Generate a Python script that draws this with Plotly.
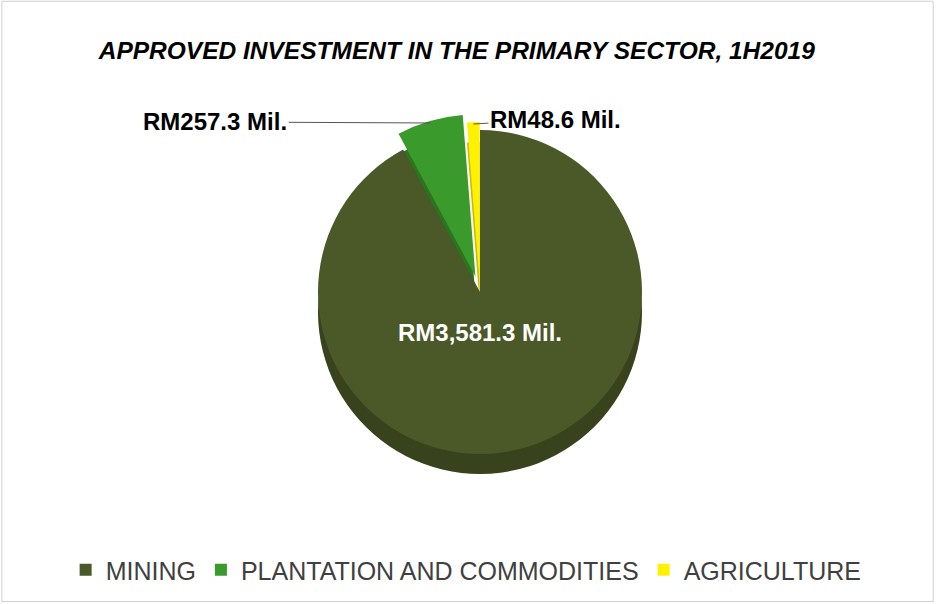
import math
import plotly.graph_objects as go

labels = ["MINING", "PLANTATION AND COMMODITIES", "AGRICULTURE"]
values = [3581.3, 257.3, 48.6]
colors = ["#4B5827", "#3A9A2B", "#FFF200"]
side_colors = ["#38421C", "#2B7420", "#C9BE00"]
pulls = [0, 0.1, 0.05]

W, H = 936, 604
cx, cy, r = 480, 292, 162
depth = 20
half = r * (1 + max(pulls))
FONT = "Liberation Sans, Arial"

def dom(cy_px):
    return dict(x=[(cx - half) / W, (cx + half) / W],
                y=[(H - cy_px - half) / H, (H - cy_px + half) / H])

fig = go.Figure()
fig.add_trace(go.Pie(
    labels=labels, values=values, sort=False, direction="clockwise", rotation=0,
    pull=pulls, marker=dict(colors=side_colors, line=dict(width=0)),
    textinfo="none", hoverinfo="skip", showlegend=False, domain=dom(cy + depth),
))
fig.add_trace(go.Pie(
    labels=labels, values=values, sort=False, direction="clockwise", rotation=0,
    pull=pulls, marker=dict(colors=colors, line=dict(width=0)),
    texttemplate=["<b>RM%{value:,.1f} Mil.</b>", "", ""],
    textposition="inside",
    insidetextorientation="horizontal",
    insidetextfont=dict(color="white", size=24, family=FONT),
    domain=dom(cy),
))

# leader-line labels for the two small slices, anchored at slice edges
total = sum(values)
cum = 0
edge = []
for v, p in zip(values, pulls):
    mid = (cum + v / 2) / total * 2 * math.pi
    cum += v
    rr = r * (1 + p) - 2
    edge.append((cx + rr * math.sin(mid), cy - rr * math.cos(mid)))

label_offsets = {1: (-215, -1, "center"), 2: (82, -5, "center")}
annotations = []
for i, (ax, ay, anc) in label_offsets.items():
    px, py = edge[i]
    annotations.append(dict(
        x=px / W, y=1 - py / H, xref="paper", yref="paper",
        text=f"<b>RM{values[i]:,.1f} Mil.</b>",
        showarrow=True, arrowhead=0, arrowwidth=1, arrowcolor="#555555",
        ax=ax, ay=ay, xanchor=anc,
        font=dict(family=FONT, size=24, color="black"),
    ))

fig.update_layout(
    width=W, height=H,
    margin=dict(l=0, r=0, t=0, b=0),
    paper_bgcolor="white",
    title=dict(text="<b><i>APPROVED INVESTMENT IN THE PRIMARY SECTOR, 1H2019</i></b>",
               x=0.488, xanchor="center", y=1 - 50 / H, yanchor="middle",
               font=dict(family=FONT, size=24.5, color="black")),
    legend=dict(orientation="h", x=0.498, xanchor="center", y=1 - 570 / H, yanchor="middle",
                font=dict(family=FONT, size=25, color="#404040"),
                traceorder="normal"),
    annotations=annotations,
    shapes=[dict(type="rect", xref="paper", yref="paper", x0=0.002, x1=0.997, y0=0.004, y1=0.998,
                 line=dict(color="#cfcfcf", width=1))],
)

fig.write_html("out.html", config={"displayModeBar": False},
               post_script="document.body.style.margin='0';")
